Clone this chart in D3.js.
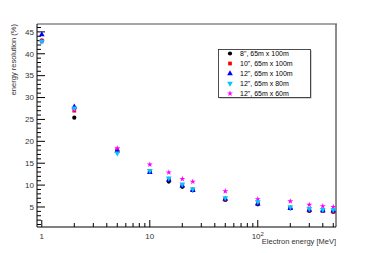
<!DOCTYPE html>
<html>
<head>
<meta charset="utf-8">
<script src="https://cdn.jsdelivr.net/npm/d3@7"></script>
<style>
body { margin: 0; background: #fff; }
text { font-family: "Liberation Sans", Arial, sans-serif; }
</style>
</head>
<body>
<svg id="chart" width="374" height="253"></svg>
<script>
var energies = [1, 2, 5, 10, 15, 20, 25, 50, 100, 200, 300, 400, 500];

var res8_100 = [43.0, 25.4, 17.9, 13.0, 10.8, 9.6, 8.8, 6.6, 5.6, 4.7, 4.1, 4.1, 3.9];
var res10_100 = [43.0, 27.0, 18.0, 13.2, 11.3, 10.0, 9.0, 6.7, 5.8, 4.8, 4.2, 4.1, 3.9];
var res12_100 = [44.4, 27.9, 17.8, 12.9, 11.2, 9.8, 8.8, 6.8, 5.7, 4.7, 4.3, 4.2, 4.1];
var res12_80 = [42.8, 27.6, 17.3, 13.3, 11.6, 10.2, 9.1, 7.1, 6.2, 5.0, 4.6, 4.4, 4.4];
var res12_60 = [42.8, 27.3, 18.4, 14.7, 12.9, 11.4, 10.8, 8.6, 6.8, 6.3, 5.5, 5.2, 5.0];

var seriesNames = ['8", 65m x 100m', '10", 65m x 100m', '12", 65m x 100m', '12", 65m x 80m', '12", 65m x 60m'];
var seriesValues = [res8_100, res10_100, res12_100, res12_80, res12_60];
var seriesColors = ["#000000", "#ff0000", "#0000ff", "#00c8ff", "#ff00ff"];
var seriesShapes = [d3.symbolCircle, d3.symbolSquare, d3.symbolTriangle, "down", d3.symbolStar];
var drawOrder = [0, 1, 2, 4, 3];

var yTicks = [5, 10, 15, 20, 25, 30, 35, 40, 45];

var fLeft = 37, fRight = 336, fTop = 24, fBottom = 227;

var svg = d3.select("#chart");

var x = d3.scaleLog().domain([0.903, 530]).range([fLeft, fRight]);
var y = d3.scaleLinear().domain([0.43, 46.8]).range([fBottom, fTop]);

var marker = function(shape) {
	var size = shape === d3.symbolStar ? 11 : 14;
	if (shape === "down") {
		return d3.symbol().type(d3.symbolTriangle).size(size)();
	}
	return d3.symbol().type(shape).size(size)();
};

// frame
svg.append("line").attr("x1", fLeft).attr("x2", fRight + 1).attr("y1", fTop).attr("y2", fTop)
	.attr("stroke", "#888").attr("stroke-width", 1.5);
svg.append("line").attr("x1", fRight).attr("x2", fRight).attr("y1", fTop).attr("y2", fBottom)
	.attr("stroke", "#666").attr("stroke-width", 1.5);

// y axis, ticks inward
var yMinor = d3.range(1, 47).filter(function(v) { return v % 5 !== 0; });
var yAxis = svg.append("g").attr("transform", "translate(" + fLeft + ",0)");
yAxis.append("line").attr("x1", 0).attr("x2", 0).attr("y1", fTop).attr("y2", fBottom).attr("stroke", "#000");
yAxis.selectAll(".ymaj").data(yTicks).enter().append("line")
	.attr("x1", 0).attr("x2", 8).attr("y1", function(d) { return y(d); }).attr("y2", function(d) { return y(d); })
	.attr("stroke", "#000");
yAxis.selectAll(".ymin").data(yMinor).enter().append("line")
	.attr("x1", 0).attr("x2", 4).attr("y1", function(d) { return y(d); }).attr("y2", function(d) { return y(d); })
	.attr("stroke", "#000");
yAxis.selectAll(".ylab").data(yTicks).enter().append("text")
	.attr("x", -3).attr("y", function(d) { return y(d); }).attr("dy", "0.35em")
	.attr("text-anchor", "end").attr("font-size", 8).attr("fill", "#333")
	.text(function(d) { return d; });

// x axis, log, ticks inward
var xMajor = [1, 10, 100];
var xMinor = [];
[1, 10, 100].forEach(function(dec) {
	for (var k = 2; k <= 9; k++) {
		if (dec * k <= 530) xMinor.push(dec * k);
	}
});
var xAxis = svg.append("g").attr("transform", "translate(0," + fBottom + ")");
xAxis.append("line").attr("x1", fLeft).attr("x2", fRight).attr("y1", 0).attr("y2", 0).attr("stroke", "#000");
xAxis.selectAll(".xmaj").data(xMajor).enter().append("line")
	.attr("x1", function(d) { return x(d); }).attr("x2", function(d) { return x(d); })
	.attr("y1", 0).attr("y2", -7).attr("stroke", "#000");
xAxis.selectAll(".xmin").data(xMinor).enter().append("line")
	.attr("x1", function(d) { return x(d); }).attr("x2", function(d) { return x(d); })
	.attr("y1", 0).attr("y2", -4).attr("stroke", "#000");

var xl = xAxis.selectAll(".xlab").data(xMajor).enter().append("text")
	.attr("x", function(d) { return x(d); }).attr("y", 12)
	.attr("text-anchor", "middle").attr("font-size", 8).attr("fill", "#333");
xl.each(function(d) {
	var t = d3.select(this);
	if (d === 100) {
		t.append("tspan").text("10");
		t.append("tspan").attr("dy", -3).attr("font-size", 6).text("2");
	} else {
		t.text(d);
	}
});

// titles
svg.append("text").attr("x", fRight).attr("y", 244).attr("text-anchor", "end")
	.attr("font-size", 7.5).attr("fill", "#333").text("Electron energy [MeV]");
svg.append("text").attr("transform", "translate(16," + fTop + ") rotate(-90)")
	.attr("text-anchor", "end").attr("font-size", 7.5).attr("fill", "#333")
	.text("energy resolution (%)");

// points
drawOrder.forEach(function(i) {
	svg.append("g").selectAll("path").data(seriesValues[i]).enter().append("path")
		.attr("d", marker(seriesShapes[i]))
		.attr("transform", function(d, j) {
			var rot = seriesShapes[i] === "down" ? " rotate(180)" : "";
			return "translate(" + x(energies[j]) + "," + y(d) + ")" + rot;
		})
		.attr("fill", seriesColors[i]);
});

// legend
var lg = svg.append("g");
lg.append("rect").attr("x", 219.5).attr("y", 50.5).attr("width", 92).attr("height", 48).attr("fill", "#aaa");
lg.append("rect").attr("x", 218.5).attr("y", 49.5).attr("width", 92).attr("height", 48)
	.attr("fill", "#fff").attr("stroke", "#222").attr("stroke-width", 0.8);
seriesNames.forEach(function(name, i) {
	var yy = 53.5 + i * 10;
	lg.append("path").attr("d", marker(seriesShapes[i]))
		.attr("transform", "translate(230," + yy + ")" + (seriesShapes[i] === "down" ? " rotate(180)" : ""))
		.attr("fill", seriesColors[i]);
	lg.append("text").attr("x", 240).attr("y", yy).attr("dy", "0.35em")
		.attr("font-size", 7).attr("fill", "#000").text(name);
});
</script>
</body>
</html>
